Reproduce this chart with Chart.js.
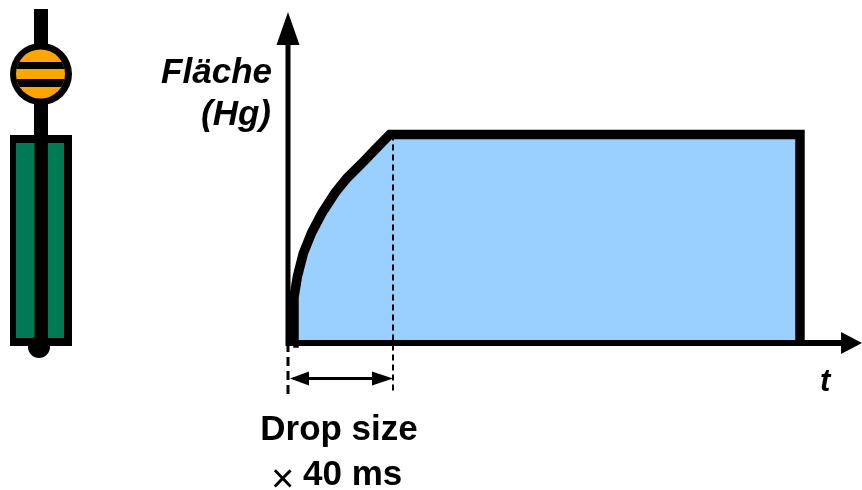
<!DOCTYPE html>
<html>
<head>
<meta charset="utf-8">
<style>
  html, body { margin: 0; padding: 0; background: #fff; }
  canvas { display: block; filter: blur(0.4px); }
</style>
<script src="https://cdn.jsdelivr.net/npm/chart.js@4"></script>
</head>
<body>
<canvas id="chart" width="862" height="490"></canvas>
<script>
// x is in units of one drop time, y in percent of the plateau
const curveTime = [0.05, 0.057, 0.09, 0.146, 0.226, 0.32, 0.448, 0.56, 0.70, 0.845, 0.97, 4.876, 4.876];
const curveArea = [0, 22, 32, 43, 53, 62, 72, 79, 86, 93.6, 100, 100, 0];

const axisTime = [0, 5.467];
const axisArea = [0, 158.8];
const dropTime = 1;
const dropGuideTop = 100;
const dropGuideBottom = -23.5;
const startGuideBottom = -26.5;
const dropArrowLevel = -17;

const yLabels = ['Fläche', '(Hg)'];
const xLabel = 't';
const dropLabel = 'Drop size';
const timesSign = '×';
const dropFactor = '40 ms';

const BLACK = '#000';
const PX_PER_TIME = 105;
const PX_PER_AREA = 2.085;
const ORIGIN_X = 288;
const ORIGIN_Y = 343;

function arrowHead(ctx, x, y, dx, dy, len, half) {
    ctx.beginPath();
    ctx.moveTo(x, y);
    ctx.lineTo(x - dx * len - dy * half, y - dy * len - dx * half);
    ctx.lineTo(x - dx * len + dy * half, y - dy * len + dx * half);
    ctx.closePath();
    ctx.fill();
}

// the little drop capillary at the left is only an illustration
function drawCapillary(ctx) {
    ctx.fillStyle = BLACK;
    ctx.fillRect(34, 9, 14, 130);
    ctx.fillRect(10, 135, 62, 211);
    ctx.fillStyle = '#007a55';
    ctx.fillRect(16, 143, 48, 195);
    ctx.fillStyle = BLACK;
    ctx.fillRect(34.5, 140, 13.5, 206);
    ctx.beginPath();
    ctx.arc(39, 347, 11, 0, Math.PI * 2);
    ctx.fill();

    ctx.beginPath();
    ctx.arc(41, 74, 31, 0, Math.PI * 2);
    ctx.fill();
    ctx.save();
    ctx.beginPath();
    ctx.arc(40.5, 74, 24.5, 0, Math.PI * 2);
    ctx.clip();
    ctx.fillStyle = '#ffa500';
    ctx.fillRect(16, 49, 50, 50);
    ctx.fillStyle = BLACK;
    ctx.fillRect(10, 62, 62, 7);
    ctx.fillRect(10, 79, 62, 8);
    ctx.restore();
}

const decorations = {
    id: 'decorations',
    afterDatasetsDraw(chart) {
        const ctx = chart.ctx;
        const x = chart.scales.x;
        const y = chart.scales.y;
        ctx.save();
        drawCapillary(ctx);

        ctx.fillStyle = BLACK;
        arrowHead(ctx, x.getPixelForValue(axisTime[1]), y.getPixelForValue(0), 1, 0, 21, 11);
        arrowHead(ctx, x.getPixelForValue(0), y.getPixelForValue(axisArea[1]), 0, -1, 33, 11.5);

        const ay = y.getPixelForValue(dropArrowLevel);
        arrowHead(ctx, x.getPixelForValue(0) + 2, ay, -1, 0, 19, 7);
        arrowHead(ctx, x.getPixelForValue(dropTime), ay, 1, 0, 21, 7);

        ctx.textBaseline = 'alphabetic';
        ctx.textAlign = 'right';
        ctx.font = 'italic bold 35px "Liberation Sans"';
        ctx.fillText(yLabels[0], 272, 83);
        ctx.fillText(yLabels[1], 271, 125);
        ctx.textAlign = 'left';
        ctx.font = 'italic bold 31px "Liberation Sans"';
        ctx.fillText(xLabel, 820, 391);

        ctx.textAlign = 'center';
        ctx.font = 'bold 35px "Liberation Sans"';
        ctx.fillText(dropLabel, 339, 440);
        ctx.textAlign = 'left';
        ctx.fillText(dropFactor, 303, 485);
        ctx.font = '40px "Liberation Sans"';
        ctx.fillText(timesSign, 271, 492);
        ctx.restore();
    }
};

function line(xs, ys, extra) {
    return Object.assign({
        data: xs.map((v, i) => ({ x: v, y: ys[i] })),
        borderColor: BLACK,
        showLine: true,
        pointRadius: 0,
        tension: 0,
        fill: false,
        clip: false
    }, extra);
}

// Chart.js paints the first dataset last, so the filled area goes at the end
new Chart(document.getElementById('chart').getContext('2d'), {
    type: 'scatter',
    data: {
        datasets: [
            line([0, axisTime[1] - 0.15], [0, 0], { borderWidth: 6 }),
            line([0, 0], [-1.4, axisArea[1] - 12], { borderWidth: 5 }),
            line([0.05, dropTime - 0.1], [dropArrowLevel, dropArrowLevel], { borderWidth: 3 }),
            line([0, 0], [0, startGuideBottom], { borderWidth: 3, borderDash: [9, 5] }),
            line([dropTime, dropTime], [dropGuideTop, dropGuideBottom], { borderWidth: 2, borderDash: [6, 4] }),
            line(curveTime, curveArea, {
                borderWidth: 9.5,
                borderJoinStyle: 'miter',
                backgroundColor: '#99d0ff',
                fill: 'origin'
            })
        ]
    },
    options: {
        responsive: false,
        animation: false,
        layout: { padding: 0 },
        plugins: { legend: { display: false }, tooltip: { enabled: false } },
        scales: {
            x: { display: false, min: -ORIGIN_X / PX_PER_TIME, max: (862 - ORIGIN_X) / PX_PER_TIME },
            y: { display: false, min: -(490 - ORIGIN_Y) / PX_PER_AREA, max: ORIGIN_Y / PX_PER_AREA }
        }
    },
    plugins: [decorations]
});
</script>
</body>
</html>
